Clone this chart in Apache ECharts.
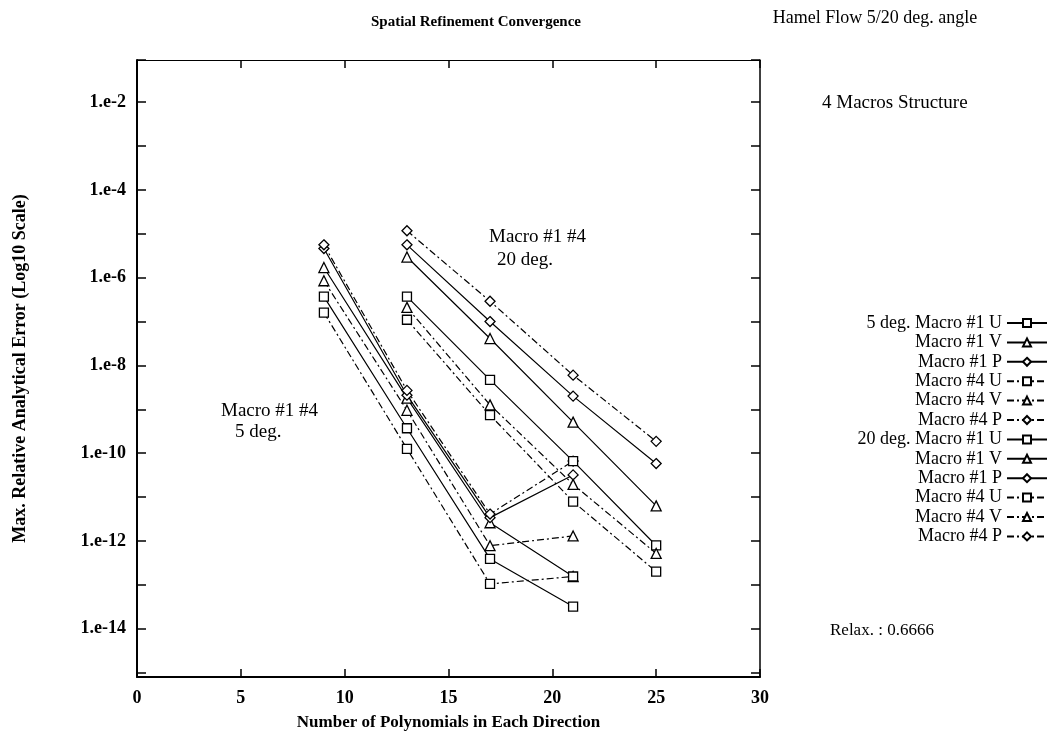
<!DOCTYPE html>
<html><head><meta charset="utf-8">
<script src="https://cdn.jsdelivr.net/npm/echarts@6/dist/echarts.min.js"></script>
<style>html,body{margin:0;padding:0;background:#fff}#c{width:1053px;height:736px}</style>
</head><body><div id="c"></div>
<script>
// ---- data ----
const xTickValues = [0, 5, 10, 15, 20, 25, 30];
const yLabelExponents = [-14, -12, -10, -8, -6, -4, -2];
const x5deg = [9, 13, 17, 21];
const x20deg = [13, 17, 21, 25];
// 5 deg.
const u1_5 = [3.7e-7, 3.7e-10, 3.9e-13, 3.2e-14];
const v1_5 = [1.7e-6, 1.8e-9, 2.6e-12, 1.55e-13];
const p1_5 = [4.6e-6, 2.1e-9, 3.4e-12, 3.2e-11];
const u4_5 = [1.6e-7, 1.26e-10, 1.05e-13, 1.55e-13];
const v4_5 = [8.5e-7, 9.5e-10, 7.8e-13, 1.3e-12];
const p4_5 = [5.6e-6, 2.7e-9, 4.1e-12, 6.6e-11];
// 20 deg.
const u1_20 = [3.7e-7, 4.7e-9, 6.6e-11, 7.9e-13];
const v1_20 = [2.95e-6, 4.1e-8, 5.1e-10, 6.3e-12];
const p1_20 = [5.6e-6, 1.0e-7, 2.0e-9, 5.8e-11];
const u4_20 = [1.1e-7, 7.4e-10, 7.9e-12, 2.0e-13];
const v4_20 = [2.1e-7, 1.26e-9, 1.95e-11, 5.2e-13];
const p4_20 = [1.17e-5, 2.9e-7, 6.0e-9, 1.86e-10];

const seriesNames = ['5 deg. Macro #1 U','5 deg. Macro #1 V','5 deg. Macro #1 P','5 deg. Macro #4 U','5 deg. Macro #4 V','5 deg. Macro #4 P',
  '20 deg. Macro #1 U','20 deg. Macro #1 V','20 deg. Macro #1 P','20 deg. Macro #4 U','20 deg. Macro #4 V','20 deg. Macro #4 P'];
const legendLabels = ['5 deg. Macro #1 U','Macro #1 V','Macro #1 P','Macro #4 U','Macro #4 V','Macro #4 P',
  '20 deg. Macro #1 U','Macro #1 V','Macro #1 P','Macro #4 U','Macro #4 V','Macro #4 P'];
const seriesX = [x5deg,x5deg,x5deg,x5deg,x5deg,x5deg,x20deg,x20deg,x20deg,x20deg,x20deg,x20deg];
const seriesY = [u1_5,v1_5,p1_5,u4_5,v4_5,p4_5,u1_20,v1_20,p1_20,u4_20,v4_20,p4_20];

// ---- styles ----
const FONT = '"Liberation Serif", "DejaVu Serif", serif';
const symbols = ['rect','triangle','diamond','rect','triangle','diamond','rect','triangle','diamond','rect','triangle','diamond'];
const dashed = [false,false,false,true,true,true,false,false,false,true,true,true];
const yMinExp = -15.1, yMaxExp = -1.04;

const series = seriesNames.map((name, k) => ({
  name: name,
  type: 'line',
  xAxisIndex: 0,
  yAxisIndex: 0,
  data: seriesX[k].map((xv, i) => [xv, seriesY[k][i]]),
  symbol: symbols[k],
  symbolSize: symbols[k] === 'rect' ? 9 : 10,
  showSymbol: true,
  showAllSymbol: true,
  lineStyle: { color: '#000', width: 1.2, type: dashed[k] ? [7, 3, 2, 3] : 'solid' },
  itemStyle: { color: '#fff', borderColor: '#000', borderWidth: 1.3 },
  emphasis: { disabled: true },
  z: 3
}));

const chart = echarts.init(document.getElementById('c'), null, { renderer: 'canvas' });
chart.setOption({
  animation: false,
  backgroundColor: '#fff',
  grid: { left: 137, right: 293, top: 60, bottom: 56, containLabel: false },
  xAxis: [
    { type: 'value', position: 'bottom', min: xTickValues[0], max: xTickValues[xTickValues.length - 1], interval: 5,
      axisLine: { show: true, lineStyle: { color: '#000', width: 2 } },
      axisTick: { show: true, inside: true, length: 8, lineStyle: { color: '#000', width: 1.5 } },
      axisLabel: { show: true, color: '#000', fontFamily: FONT, fontSize: 18, fontWeight: 'bold', margin: 12 },
      splitLine: { show: false },
      name: 'Number of Polynomials in Each Direction', nameLocation: 'middle', nameGap: 37,
      nameTextStyle: { color: '#000', fontFamily: FONT, fontSize: 17, fontWeight: 'bold' } },
    { type: 'value', position: 'top', min: xTickValues[0], max: xTickValues[xTickValues.length - 1], interval: 5,
      axisLine: { show: true, lineStyle: { color: '#000', width: 1.2 } },
      axisTick: { show: true, inside: true, length: 8, lineStyle: { color: '#000', width: 1.5 } },
      axisLabel: { show: false }, splitLine: { show: false } }
  ],
  yAxis: [
    { type: 'log', logBase: 10, show: false, min: Math.pow(10, yMinExp), max: Math.pow(10, yMaxExp),
      splitLine: { show: false } },
    { type: 'value', position: 'left', min: yMinExp, max: yMaxExp, splitNumber: 14,
      axisLine: { show: true, lineStyle: { color: '#000', width: 2 } },
      axisTick: { show: true, inside: true, length: 9, lineStyle: { color: '#000', width: 1.5 } },
      axisLabel: { show: true, color: '#000', fontFamily: FONT, fontSize: 18, fontWeight: 'bold', margin: 11,
        formatter: v => (yLabelExponents.indexOf(Math.round(v)) >= 0 && Math.abs(v - Math.round(v)) < 1e-6) ? ('1.e' + Math.round(v)) : '' },
      splitLine: { show: false },
      name: 'Max. Relative Analytical Error (Log10 Scale)', nameLocation: 'middle', nameGap: 108,
      nameTextStyle: { color: '#000', fontFamily: FONT, fontSize: 18, fontWeight: 'bold' } },
    { type: 'value', position: 'right', min: yMinExp, max: yMaxExp, splitNumber: 14,
      axisLine: { show: true, lineStyle: { color: '#000', width: 1.5 } },
      axisTick: { show: true, inside: true, length: 9, lineStyle: { color: '#000', width: 1.5 } },
      axisLabel: { show: false }, splitLine: { show: false } }
  ],
  legend: {
    orient: 'vertical', right: 5, top: 314, align: 'right', padding: 0,
    itemWidth: 40, itemHeight: 10, itemGap: 1.4,
    selectedMode: false,
    data: seriesNames,
    formatter: n => legendLabels[seriesNames.indexOf(n)],
    textStyle: { color: '#000', fontFamily: FONT, fontSize: 18, lineHeight: 18 }
  },
  graphic: [
    { type: 'text', x: 476, y: 22, style: { text: 'Spatial Refinement Convergence', fill: '#000', font: 'bold 15px ' + FONT, align: 'center', verticalAlign: 'middle' } },
    { type: 'text', x: 875, y: 18, style: { text: 'Hamel Flow 5/20 deg. angle', fill: '#000', font: '18px ' + FONT, align: 'center', verticalAlign: 'middle' } },
    { type: 'text', x: 822, y: 103, style: { text: '4 Macros Structure', fill: '#000', font: '19px ' + FONT, align: 'left', verticalAlign: 'middle' } },
    { type: 'text', x: 830, y: 631, style: { text: 'Relax. : 0.6666', fill: '#000', font: '17px ' + FONT, align: 'left', verticalAlign: 'middle' } },
    { type: 'text', x: 221, y: 411, style: { text: 'Macro #1 #4', fill: '#000', font: '19px ' + FONT, align: 'left', verticalAlign: 'middle' } },
    { type: 'text', x: 235, y: 432, style: { text: '5 deg.', fill: '#000', font: '19px ' + FONT, align: 'left', verticalAlign: 'middle' } },
    { type: 'text', x: 489, y: 237, style: { text: 'Macro #1 #4', fill: '#000', font: '19px ' + FONT, align: 'left', verticalAlign: 'middle' } },
    { type: 'text', x: 497, y: 260, style: { text: '20 deg.', fill: '#000', font: '19px ' + FONT, align: 'left', verticalAlign: 'middle' } }
  ],
  series: series
});
</script>
</body></html>
